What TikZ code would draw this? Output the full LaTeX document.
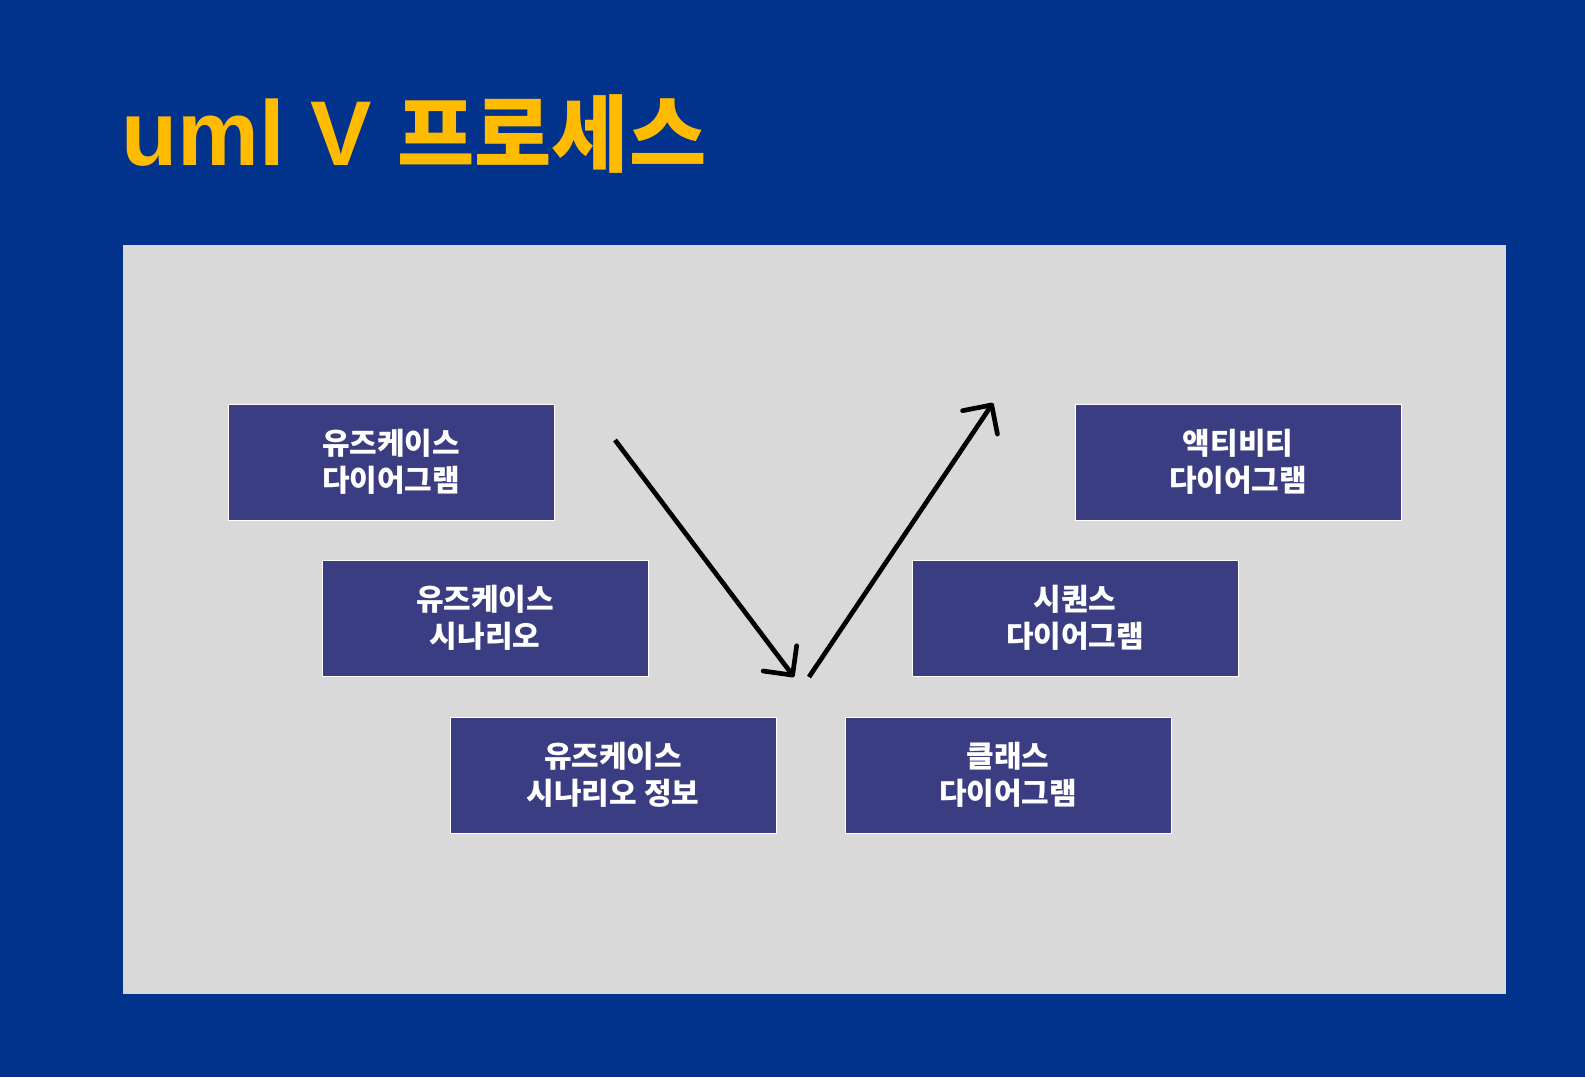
\documentclass[tikz,border=0pt]{standalone}
\usepackage{fontspec}
\setmainfont{Noto Sans CJK KR}
\newfontfamily\latinfont{Liberation Sans}
\usetikzlibrary{arrows.meta}
\definecolor{bgblue}{RGB}{1,50,140}
\definecolor{panel}{RGB}{217,217,217}
\definecolor{boxblue}{RGB}{59,61,130}
\definecolor{gold}{RGB}{255,187,0}
\tikzset{x=1pt,y=-1pt,
  step box/.style={fill=boxblue,draw=white,line width=0.6pt,minimum width=326pt,minimum height=116pt,text=white,align=center,font=\fontsize{30}{37}\selectfont\bfseries},
  vflow/.style={line width=4.7pt,-{Straight Barb[length=21pt,width=42pt,round]}}}

\begin{document}
\begin{tikzpicture}
\fill[bgblue] (0,0) rectangle (1585,1077);\fill[panel] (123,245) rectangle (1506,994);
\node[anchor=base west,text=gold,font=\bfseries,inner sep=0pt] (title) at (121,165){{\latinfont\fontsize{92}{96}\selectfont uml V }{\fontsize{84}{96}\selectfont 프로세스}};
% left leg
\node[step box] (ucd) at (391,462){유즈케이스\\다이어그램};
\node[step box] (ucs) at (485,618){유즈케이스\\시나리오};
\node[step box] (uci) at (613,775){유즈케이스\\시나리오 정보};
% right leg
\node[step box] (cls) at (1008,775){클래스\\다이어그램};
\node[step box] (seq) at (1075,618){시퀀스\\다이어그램};
\node[step box] (act) at (1238,462){액티비티\\다이어그램};
\coordinate (down s) at (615,440);\coordinate (down e) at (794,677);
\coordinate (up s) at (809,677);\coordinate (up e) at (993,403);
\draw[vflow] (down s)--(down e);\draw[vflow] (up s)--(up e);
\end{tikzpicture}
\end{document}
